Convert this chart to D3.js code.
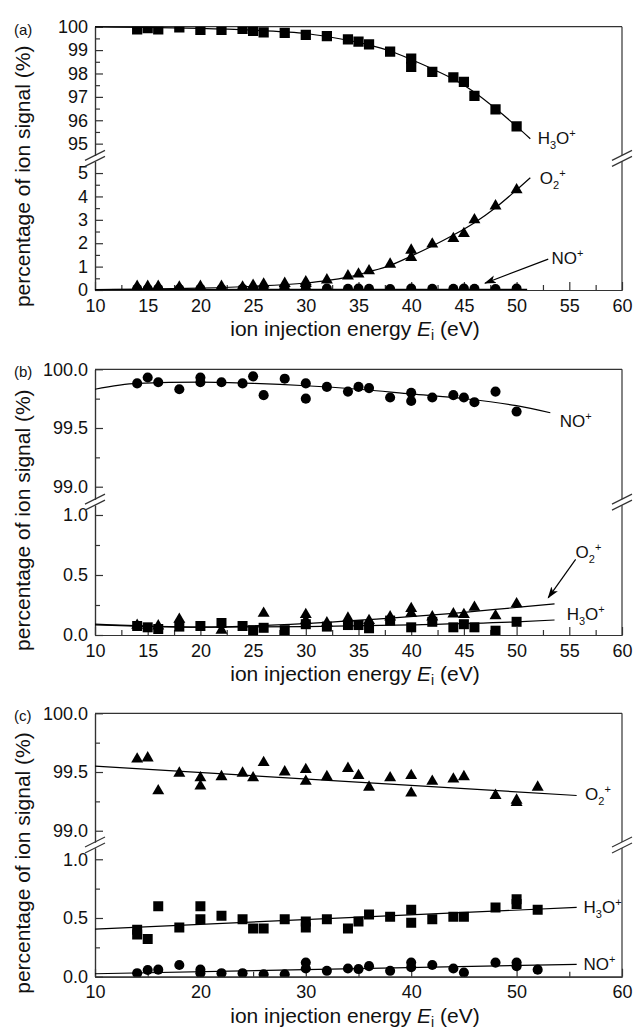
<!DOCTYPE html>
<html>
<head>
<meta charset="utf-8">
<script src="https://cdn.jsdelivr.net/npm/d3@7"></script>
<style>
body { margin: 0; background: #fff; }
svg { display: block; }
</style>
</head>
<body>
<div id="chart"></div>
<script>
// ---- panel (a) ----
var aH3OX = [14,15,16,18,20,22,24,25,26,28,30,32,34,35,36,38,40,40,42,44,45,46,48,50];
var aH3OY = [99.89,99.94,99.89,99.97,99.86,99.86,99.91,99.82,99.76,99.74,99.65,99.6,99.46,99.36,99.24,98.93,98.64,98.28,98.07,97.83,97.64,97.04,96.47,95.74];
var aH3OFitX = [10,15,20,25,28,30,32,34,36,38,40,42,44,46,48,50,51.3];
var aH3OFitY = [99.99,99.97,99.93,99.85,99.78,99.71,99.58,99.42,99.22,98.96,98.6,98.2,97.76,97.2,96.5,95.74,95.21];
var aO2X = [14,15,16,18,20,22,24,25,26,28,30,30,32,34,35,36,38,40,40,42,44,45,46,48,50];
var aO2Y = [0.15,0.15,0.15,0.12,0.15,0.15,0.12,0.2,0.25,0.28,0.35,0.28,0.43,0.6,0.68,0.82,1.1,1.7,1.39,1.96,2.2,2.41,3.0,3.59,4.28];
var aO2FitX = [10,15,20,25,30,32,34,36,38,40,42,44,46,48,50,51.3];
var aO2FitY = [0.02,0.04,0.08,0.16,0.3,0.4,0.55,0.78,1.05,1.45,1.88,2.35,2.88,3.52,4.28,4.8];
var aNOX = [14,15,16,18,20,22,24,25,26,28,30,32,34,35,36,38,40,42,44,45,46,48,50];
var aNOY = [0.05,0.04,0.05,0.04,0.05,0.04,0.05,0.04,0.05,0.04,0.05,0.06,0.05,0.06,0.05,0.04,0.06,0.05,0.05,0.06,0.05,0.04,0.06];
var aNOFitX = [10,51];
var aNOFitY = [0.02,0.03];

// ---- panel (b) ----
var bNOX = [14,15,16,18,20,20,22,24,25,26,28,30,30,32,34,35,36,38,40,40,42,44,45,46,48,50];
var bNOY = [99.88,99.93,99.89,99.83,99.93,99.89,99.89,99.88,99.94,99.78,99.92,99.88,99.75,99.85,99.81,99.85,99.84,99.76,99.8,99.73,99.76,99.78,99.76,99.72,99.81,99.64];
var bNOFitX = [10,14,20,25,30,35,40,45,50,53.2];
var bNOFitY = [99.83,99.88,99.89,99.88,99.86,99.83,99.79,99.75,99.69,99.63];
var bH3OX = [14,15,16,18,20,22,24,25,26,28,30,32,34,35,36,38,40,42,44,45,46,48,50];
var bH3OY = [0.075,0.064,0.05,0.07,0.075,0.1,0.075,0.04,0.06,0.04,0.09,0.07,0.083,0.083,0.056,0.12,0.064,0.11,0.064,0.09,0.064,0.036,0.11];
var bH3OFitX = [10,20,30,40,50,53.6];
var bH3OFitY = [0.09,0.065,0.07,0.085,0.11,0.125];
var bO2X = [14,16,18,22,26,30,30,32,34,36,38,40,40,42,44,45,46,48,50];
var bO2Y = [0.08,0.075,0.13,0.04,0.18,0.17,0.12,0.1,0.14,0.12,0.15,0.22,0.18,0.15,0.175,0.17,0.23,0.16,0.26];
var bO2FitX = [10,20,30,38,44,50,53.6];
var bO2FitY = [0.085,0.065,0.095,0.14,0.18,0.23,0.26];

// ---- panel (c) ----
var cO2X = [14,15,16,18,20,20,22,24,25,26,28,30,30,32,34,35,36,38,40,40,42,44,45,48,50,50,52];
var cO2Y = [99.61,99.62,99.34,99.49,99.45,99.38,99.46,99.49,99.45,99.58,99.5,99.52,99.42,99.46,99.53,99.47,99.37,99.45,99.47,99.32,99.42,99.44,99.46,99.3,99.26,99.24,99.37];
var cO2FitX = [10,55.7];
var cO2FitY = [99.55,99.3];
var cH3OX = [14,14,15,16,18,20,20,22,24,25,26,28,30,30,32,34,35,36,38,40,40,42,44,45,48,50,50,52];
var cH3OY = [0.4,0.36,0.32,0.6,0.42,0.6,0.49,0.52,0.49,0.41,0.41,0.49,0.47,0.42,0.49,0.41,0.47,0.53,0.51,0.57,0.46,0.49,0.51,0.51,0.59,0.66,0.62,0.57];
var cH3OFitX = [10,55.7];
var cH3OFitY = [0.405,0.59];
var cNOX = [14,15,16,18,20,20,22,24,26,28,30,30,32,34,35,36,38,40,40,42,44,45,48,50,50,52];
var cNOY = [0.03,0.057,0.06,0.1,0.06,0.03,0.03,0.03,0.02,0.02,0.12,0.07,0.05,0.07,0.065,0.09,0.05,0.12,0.08,0.1,0.07,0.035,0.12,0.12,0.09,0.06];
var cNOFitX = [10,55.7];
var cNOFitY = [0.025,0.105];

// ---- ticks ----
var xTicksAB = [10,15,20,25,30,35,40,45,50,55,60];
var xMinorAB = [12.5,17.5,22.5,27.5,32.5,37.5,42.5,47.5,52.5,57.5];
var xTicksC = [10,20,30,40,50,60];
var xMinorC = [15,25,35,45,55];
var upperTicksA = [95,96,97,98,99,100];
var upperMinorA = [95.5,96.5,97.5,98.5,99.5];
var lowerTicksA = [0,1,2,3,4,5];
var lowerMinorA = [0.5,1.5,2.5,3.5,4.5];
var upperTicksBC = [99.0,99.5,100.0];
var upperMinorBC = [99.25,99.75];
var lowerTicksBC = [0.0,0.5,1.0];
var lowerMinorBC = [0.25,0.75];

// ion names: [text, 0 normal / 1 sub / 2 sup]
var ionH3O = [["H",0],["3",1],["O",0],["+",2]];
var ionO2 = [["O",0],["2",1],["+",2]];
var ionNO = [["NO",0],["+",2]];

var W = 637, H = 1031;
var left = 95, right = 622, gap = 6;
var axisColor = "#333";

var svg = d3.select("#chart").append("svg")
    .attr("width", W)
    .attr("height", H)
    .style("font-family", '"Liberation Sans", Arial, Helvetica, sans-serif');

var defs = svg.append("defs");
defs.append("marker")
    .attr("id", "arrow")
    .attr("viewBox", "0 -5 12 10")
    .attr("refX", 11).attr("refY", 0)
    .attr("markerWidth", 12).attr("markerHeight", 10)
    .attr("markerUnits", "userSpaceOnUse")
    .attr("orient", "auto")
  .append("path")
    .attr("d", "M0,-4L12,0L0,4L3,0Z")
    .attr("fill", "#000");

var x = d3.scaleLinear().domain([10, 60]).range([left, right]);

var panels = [
  { name: "(a)", top: 26.7, bottom: 290, upper: [94.5, 100], lower: [0, 5.5],
    upperTicks: upperTicksA, upperMinor: upperMinorA, lowerTicks: lowerTicksA, lowerMinor: lowerMinorA,
    fmt: d3.format("d"), xTicks: xTicksAB, xMinor: xMinorAB,
    points: [
      { x: aNOX, y: aNOY, seg: "lower", shape: d3.symbolCircle, size: 78 },
      { x: aO2X, y: aO2Y, seg: "lower", shape: d3.symbolTriangle, size: 62 },
      { x: aH3OX, y: aH3OY, seg: "upper", shape: d3.symbolSquare, size: 105 }
    ],
    fits: [
      { x: aH3OFitX, y: aH3OFitY, seg: "upper", curve: d3.curveMonotoneX },
      { x: aO2FitX, y: aO2FitY, seg: "lower", curve: d3.curveMonotoneX },
      { x: aNOFitX, y: aNOFitY, seg: "lower", curve: d3.curveLinear }
    ],
    labels: [
      { ion: ionH3O, x: 52, y: 95.0, seg: "upper" },
      { ion: ionO2, x: 52.2, y: 4.53, seg: "lower" },
      { ion: ionNO, x: 53.3, y: 1.11, seg: "lower" }
    ],
    arrows: [ { x1: 53.0, y1: 1.32, x2: 47.0, y2: 0.29, seg: "lower" } ]
  },
  { name: "(b)", top: 369.3, bottom: 635, upper: [98.894, 100], lower: [0, 1.082],
    upperTicks: upperTicksBC, upperMinor: upperMinorBC, lowerTicks: lowerTicksBC, lowerMinor: lowerMinorBC,
    fmt: d3.format(".1f"), xTicks: xTicksAB, xMinor: xMinorAB,
    points: [
      { x: bNOX, y: bNOY, seg: "upper", shape: d3.symbolCircle, size: 80 },
      { x: bO2X, y: bO2Y, seg: "lower", shape: d3.symbolTriangle, size: 62 },
      { x: bH3OX, y: bH3OY, seg: "lower", shape: d3.symbolSquare, size: 100 }
    ],
    fits: [
      { x: bNOFitX, y: bNOFitY, seg: "upper", curve: d3.curveMonotoneX },
      { x: bO2FitX, y: bO2FitY, seg: "lower", curve: d3.curveMonotoneX },
      { x: bH3OFitX, y: bH3OFitY, seg: "lower", curve: d3.curveMonotoneX }
    ],
    labels: [
      { ion: ionNO, x: 54.1, y: 99.51, seg: "upper" },
      { ion: ionO2, x: 55.6, y: 0.64, seg: "lower" },
      { ion: ionH3O, x: 54.75, y: 0.125, seg: "lower" }
    ],
    arrows: [ { x1: 55.6, y1: 0.63, x2: 53.0, y2: 0.31, seg: "lower" } ]
  },
  { name: "(c)", top: 713.3, bottom: 976.7, upper: [98.904, 100], lower: [0, 1.096],
    upperTicks: upperTicksBC, upperMinor: upperMinorBC, lowerTicks: lowerTicksBC, lowerMinor: lowerMinorBC,
    fmt: d3.format(".1f"), xTicks: xTicksC, xMinor: xMinorC,
    points: [
      { x: cO2X, y: cO2Y, seg: "upper", shape: d3.symbolTriangle, size: 62 },
      { x: cH3OX, y: cH3OY, seg: "lower", shape: d3.symbolSquare, size: 100 },
      { x: cNOX, y: cNOY, seg: "lower", shape: d3.symbolCircle, size: 80 }
    ],
    fits: [
      { x: cO2FitX, y: cO2FitY, seg: "upper", curve: d3.curveLinear },
      { x: cH3OFitX, y: cH3OFitY, seg: "lower", curve: d3.curveLinear },
      { x: cNOFitX, y: cNOFitY, seg: "lower", curve: d3.curveLinear }
    ],
    labels: [
      { ion: ionO2, x: 56.5, y: 99.26, seg: "upper" },
      { ion: ionH3O, x: 56.35, y: 0.54, seg: "lower" },
      { ion: ionNO, x: 56.35, y: 0.057, seg: "lower" }
    ],
    arrows: []
  }
];

function styleAxis(sel) {
  sel.selectAll(".domain").attr("stroke", axisColor).attr("stroke-width", 1.2);
  sel.selectAll(".tick line").attr("stroke", axisColor).attr("stroke-width", 1.2);
  sel.selectAll(".tick text").attr("fill", "#111").attr("font-size", 18).attr("font-family", null);
  sel.attr("font-family", null);
}

function ionText(g, parts, px, py) {
  var t = g.append("text")
      .attr("x", px).attr("y", py)
      .attr("font-size", 17)
      .attr("fill", "#111");
  var shift = 0;
  parts.forEach(function (pt) {
    var target = pt[1] == 1 ? 5 : (pt[1] == 2 ? -7 : 0);
    t.append("tspan")
        .attr("dy", target - shift)
        .attr("font-size", pt[1] ? 11 : 17)
        .text(pt[0]);
    shift = target;
  });
}

panels.forEach(function (p, i) {
  var segH = (p.bottom - p.top - gap) / 2;
  var ys = {
    upper: d3.scaleLinear().domain(p.upper).range([p.top + segH, p.top]),
    lower: d3.scaleLinear().domain(p.lower).range([p.bottom, p.bottom - segH])
  };
  var g = svg.append("g");

  ["upper", "lower"].forEach(function (s) {
    var r = ys[s].range();
    defs.append("clipPath").attr("id", "clip" + i + s)
      .append("rect")
        .attr("x", left).attr("y", r[1])
        .attr("width", right - left).attr("height", r[0] - r[1]);
  });

  // left axis, both segments
  [["upper", p.upperTicks, p.upperMinor], ["lower", p.lowerTicks, p.lowerMinor]].forEach(function (a) {
    g.append("g").attr("transform", "translate(" + left + ",0)")
        .call(d3.axisLeft(ys[a[0]]).tickValues(a[2]).tickSizeInner(-5).tickSizeOuter(0).tickFormat(""))
        .call(styleAxis);
    g.append("g").attr("transform", "translate(" + left + ",0)")
        .call(d3.axisLeft(ys[a[0]]).tickValues(a[1]).tickSizeInner(-8).tickSizeOuter(0).tickPadding(7).tickFormat(p.fmt))
        .call(styleAxis);
    // right border
    var r = ys[a[0]].range();
    g.append("line")
        .attr("x1", right).attr("x2", right).attr("y1", r[0]).attr("y2", r[1])
        .attr("stroke", axisColor).attr("stroke-width", 1.2);
  });

  // top border
  g.append("line")
      .attr("x1", left).attr("x2", right).attr("y1", p.top).attr("y2", p.top)
      .attr("stroke", axisColor).attr("stroke-width", 1.2);

  // bottom axis
  g.append("g").attr("transform", "translate(0," + p.bottom + ")")
      .call(d3.axisBottom(x).tickValues(p.xMinor).tickSizeInner(-5).tickSizeOuter(0).tickFormat(""))
      .call(styleAxis);
  g.append("g").attr("transform", "translate(0," + p.bottom + ")")
      .call(d3.axisBottom(x).tickValues(p.xTicks).tickSizeInner(-8).tickSizeOuter(0).tickPadding(9))
      .call(styleAxis);

  // axis break marks
  var yc = p.top + segH + gap / 2;
  [left, right].forEach(function (bx) {
    [-gap / 2, gap / 2].forEach(function (off) {
      g.append("line")
          .attr("x1", bx - 10).attr("y1", yc + off + 5)
          .attr("x2", bx + 10).attr("y2", yc + off - 5)
          .attr("stroke", axisColor).attr("stroke-width", 1.2);
    });
  });

  // fit curves
  p.fits.forEach(function (s) {
    var yy = ys[s.seg];
    var pts = s.x.map(function (v, k) { return [v, s.y[k]]; });
    g.append("path")
        .datum(pts)
        .attr("fill", "none")
        .attr("stroke", "#000")
        .attr("stroke-width", 1.2)
        .attr("d", d3.line().x(function (d) { return x(d[0]); }).y(function (d) { return yy(d[1]); }).curve(s.curve));
  });

  // markers
  p.points.forEach(function (s) {
    var yy = ys[s.seg];
    var pts = s.x.map(function (v, k) { return [v, s.y[k]]; });
    g.append("g")
        .attr("clip-path", "url(#clip" + i + s.seg + ")")
      .selectAll("path")
      .data(pts)
      .enter().append("path")
        .attr("transform", function (d) { return "translate(" + x(d[0]) + "," + yy(d[1]) + ")"; })
        .attr("d", d3.symbol().type(s.shape).size(s.size))
        .attr("fill", "#000");
  });

  // arrows
  p.arrows.forEach(function (a) {
    var yy = ys[a.seg];
    g.append("line")
        .attr("x1", x(a.x1)).attr("y1", yy(a.y1))
        .attr("x2", x(a.x2)).attr("y2", yy(a.y2))
        .attr("stroke", "#000").attr("stroke-width", 1.2)
        .attr("marker-end", "url(#arrow)");
  });

  // ion labels
  p.labels.forEach(function (l) {
    ionText(g, l.ion, x(l.x), ys[l.seg](l.y));
  });

  // panel letter
  g.append("text")
      .attr("x", 14).attr("y", p.top + 8)
      .attr("font-size", 15).attr("fill", "#111")
      .text(p.name);

  // y title
  g.append("text")
      .attr("transform", "translate(30," + ((p.top + p.bottom) / 2 + 18) + ") rotate(-90)")
      .attr("text-anchor", "middle")
      .attr("font-size", 21).attr("fill", "#111")
      .text("percentage of ion signal (%)");

  // x title
  var xt = g.append("text")
      .attr("x", 355).attr("y", p.bottom + 46)
      .attr("text-anchor", "middle")
      .attr("font-size", 21).attr("fill", "#111");
  xt.append("tspan").text("ion injection energy ");
  xt.append("tspan").attr("font-style", "italic").text("E");
  xt.append("tspan").attr("dy", 4).attr("font-size", 14).text("i");
  xt.append("tspan").attr("dy", -4).text(" (eV)");
});
</script>
</body>
</html>
